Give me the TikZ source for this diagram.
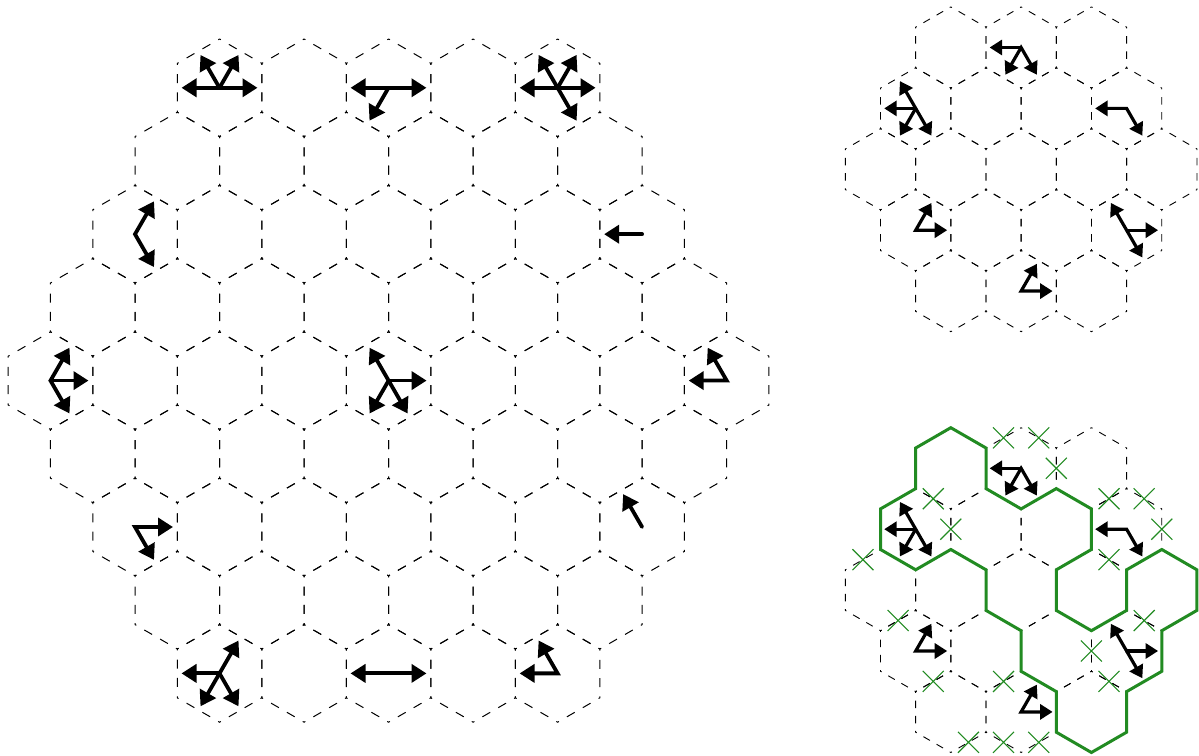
\documentclass[tikz,border=0pt]{standalone}
\usetikzlibrary{arrows.meta}
\definecolor{pathgreen}{RGB}{34,139,34}
\tikzset{
  bighexline/.style={line width=1pt, dash pattern=on 3pt off 9.27pt on 9pt off 9.27pt on 9pt off 9.27pt, dash phase=1.5pt},
  smallhexline/.style={line width=0.9pt, dash pattern=on 2.5pt off 7.7pt on 7.5pt off 7.7pt on 7.5pt off 7.7pt, dash phase=1.25pt},
  bone/.style={line width=3.8pt, line cap=round, -{Triangle[length=15pt,width=18pt]}},
  bpair/.style={line width=3.8pt, line join=miter, {Triangle[length=15pt,width=18pt]}-{Triangle[length=15pt,width=18pt]}},
  sone/.style={line width=3.2pt, line cap=round, -{Triangle[length=12.5pt,width=15pt]}},
  spair/.style={line width=3.2pt, line join=miter, {Triangle[length=12.5pt,width=15pt]}-{Triangle[length=12.5pt,width=15pt]}},
  greenloop/.style={pathgreen, line width=3pt, line join=miter},
  xmark/.style={pathgreen, line width=1.1pt},
}
\newcommand\BArrTwo[4]{\draw[bpair] ([shift={(#3:38)}]#1,#2) -- (#1,#2) -- ([shift={(#4:38)}]#1,#2);}
\newcommand\BArrOne[3]{\draw[bone] (#1,#2) -- ++(#3:38);}
\newcommand\SArrTwo[4]{\draw[spair] ([shift={(#3:31.5)}]#1,#2) -- (#1,#2) -- ([shift={(#4:31.5)}]#1,#2);}
\newcommand\SArrOne[3]{\draw[sone] (#1,#2) -- ++(#3:31.5);}
\newcommand\SmallBoard[1]{%
  \foreach \rr in {0,...,4}{%
    \pgfmathtruncatemacro\nh{5-abs(\rr-2)}%
    \pgfmathsetmacro\xo{880.5+35.16*abs(\rr-2)}%
    \pgfmathsetmacro\yy{#1-60.9*\rr}%
    \foreach \k in {1,...,\nh}{%
      \pgfmathsetmacro\xx{\xo+70.32*(\k-1)}%
      \draw[smallhexline] (\xx,\yy) ++(90:40.6) -- ++(-30:40.6) -- ++(-90:40.6) -- ++(-150:40.6) -- ++(150:40.6) -- ++(90:40.6) -- cycle;
    }%
  }%
}
\newcommand\SmallArrows[1]{%
  \SArrTwo{1021.1}{707.5-#1}{240}{300}\SArrOne{1021.1}{707.5-#1}{180}
  \SArrTwo{915.7}{646.6-#1}{120}{300}\SArrOne{915.7}{646.6-#1}{180}\SArrOne{915.7}{646.6-#1}{240}
  \SArrTwo{1126.6}{646.6-#1}{180}{300}
  \SArrTwo{915.7}{524.8-#1}{0}{60}
  \SArrTwo{1126.6}{524.8-#1}{120}{300}\SArrOne{1126.6}{524.8-#1}{0}
  \SArrTwo{1021.1}{463.9-#1}{0}{60}
}
\begin{document}
\begin{tikzpicture}[x=1pt,y=1pt]
\useasboundingbox (0,0) rectangle (1199,755);
% large board
\foreach \rr in {0,...,8}{%
  \pgfmathtruncatemacro\nh{9-abs(\rr-4)}%
  \pgfmathsetmacro\xo{50.5+42.26*abs(\rr-4)}%
  \pgfmathsetmacro\yy{667.2-73.2*\rr}%
  \foreach \k in {1,...,\nh}{%
    \pgfmathsetmacro\xx{\xo+84.52*(\k-1)}%
    \draw[bighexline] (\xx,\yy) ++(90:48.8) -- ++(-30:48.8) -- ++(-90:48.8) -- ++(-150:48.8) -- ++(150:48.8) -- ++(90:48.8) -- cycle;
  }%
}
% large board arrows
\BArrTwo{219.5}{667.2}{0}{180}\BArrOne{219.5}{667.2}{60}\BArrOne{219.5}{667.2}{120}
\BArrTwo{388.5}{667.2}{0}{180}\BArrOne{388.5}{667.2}{240}
\BArrTwo{557.6}{667.2}{0}{180}\BArrTwo{557.6}{667.2}{120}{300}\BArrOne{557.6}{667.2}{60}
\BArrTwo{135}{520.8}{60}{300}
\BArrOne{642.1}{520.8}{180}
\BArrTwo{50.5}{374.4}{60}{300}\BArrOne{50.5}{374.4}{0}
\BArrTwo{388.6}{374.4}{120}{300}\BArrOne{388.6}{374.4}{0}\BArrOne{388.6}{374.4}{240}
\BArrTwo{726.7}{374.4}{120}{180}
\BArrTwo{135}{228}{0}{300}
\BArrOne{642.1}{228}{120}
\BArrTwo{219.5}{81.6}{60}{240}\BArrOne{219.5}{81.6}{180}\BArrOne{219.5}{81.6}{300}
\BArrTwo{388.5}{81.6}{0}{180}
\BArrTwo{557.6}{81.6}{120}{180}
% small boards
\SmallBoard{707.5}
\SmallBoard{286.7}
\SmallArrows{0}
\SmallArrows{420.8}
% green loop
\draw[greenloop] (950.8,327.3) -- (986.0,307.0) -- (986.0,266.4) -- (1021.1,246.1) -- (1056.3,266.4)
  -- (1091.4,246.1) -- (1091.4,205.5) -- (1056.3,185.2) -- (1056.3,144.6) -- (1091.4,124.3)
  -- (1126.6,144.6) -- (1126.6,185.2) -- (1161.8,205.5) -- (1196.9,185.2) -- (1196.9,144.6)
  -- (1161.8,124.3) -- (1161.8,83.7) -- (1126.6,63.4) -- (1126.6,22.8) -- (1091.4,2.5)
  -- (1056.3,22.8) -- (1056.3,63.4) -- (1021.1,83.7) -- (1021.1,124.3) -- (986.0,144.6)
  -- (986.0,185.2) -- (950.8,205.5) -- (915.7,185.2) -- (880.5,205.5) -- (880.5,246.1)
  -- (915.7,266.4) -- (915.7,307.0) -- cycle;
% crosses
\foreach \px/\py in {1003.55/317.15, 1038.7/317.15, 1056.3/286.7, 933.25/256.25, 950.8/225.8,
  1109.0/256.25, 1144.2/256.25, 1161.8/225.8, 1109.0/195.35, 862.9/195.35, 898.1/134.45,
  1144.2/134.45, 1091.4/104.0, 933.25/73.55, 1003.55/73.55, 1109.0/73.55, 968.4/12.65,
  1003.55/12.65, 1038.7/12.65}{%
  \draw[xmark] ([shift={(-10.5,-10.5)}]\px,\py) -- ([shift={(10.5,10.5)}]\px,\py)
               ([shift={(-10.5,10.5)}]\px,\py) -- ([shift={(10.5,-10.5)}]\px,\py);
}
\end{tikzpicture}
\end{document}
